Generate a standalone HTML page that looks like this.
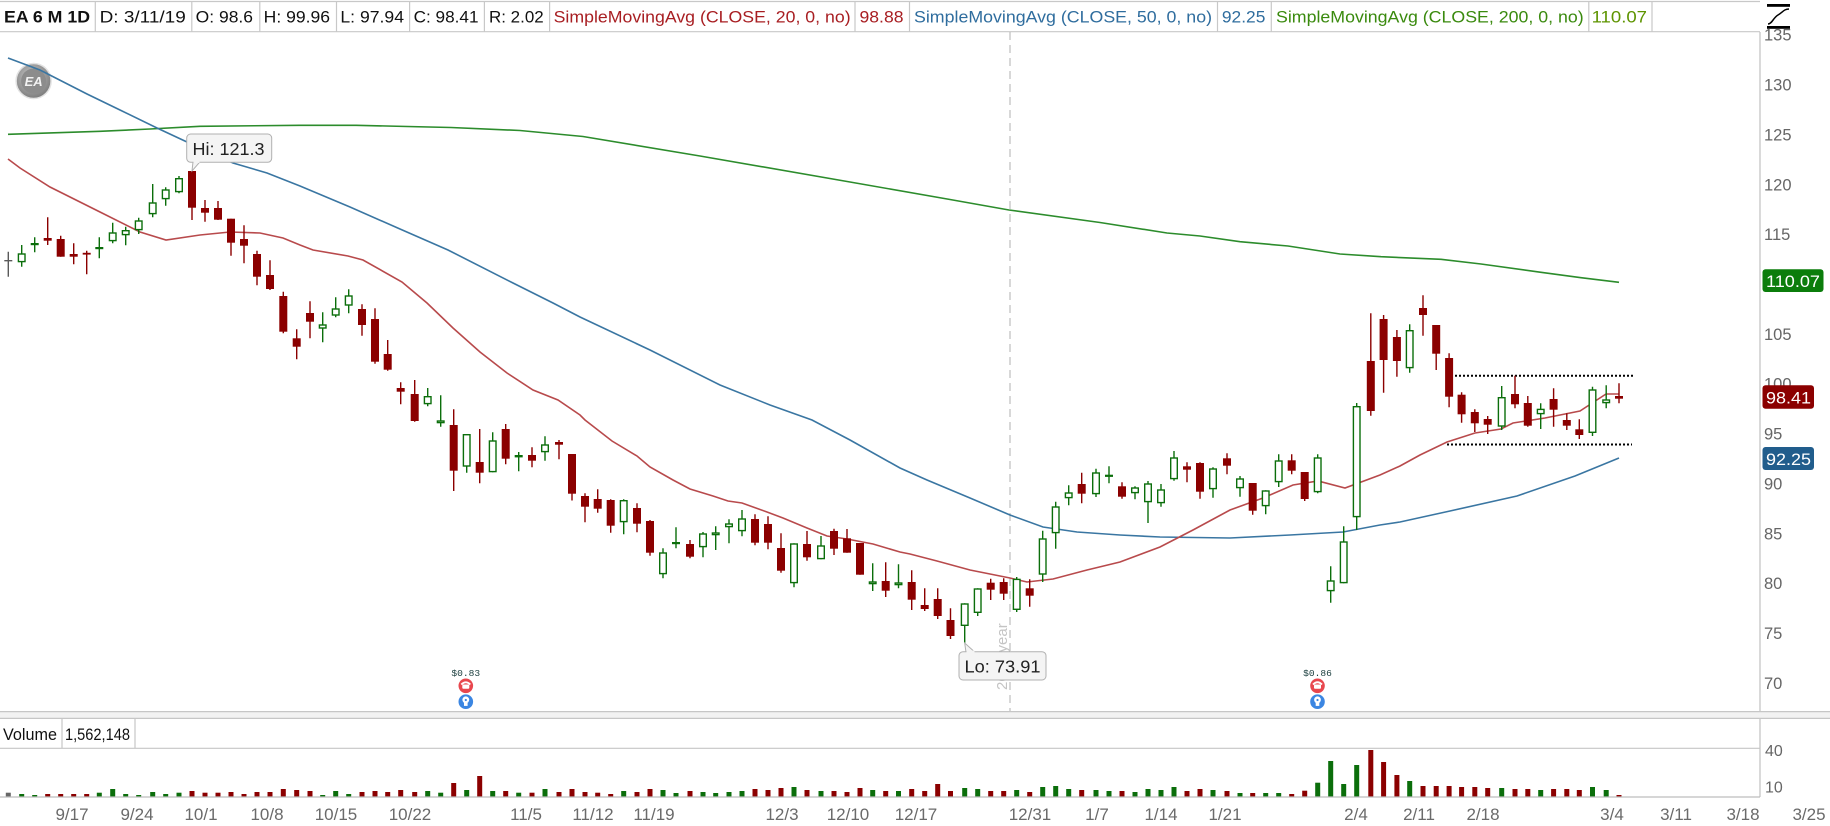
<!DOCTYPE html>
<html><head><meta charset="utf-8"><style>
html,body{margin:0;padding:0;background:#fff;}
svg{display:block;font-family:"Liberation Sans",Arial,sans-serif;}
</style></head><body>
<svg width="1830" height="826" viewBox="0 0 1830 826" xmlns="http://www.w3.org/2000/svg">
<defs>
<clipPath id="pc"><rect x="0" y="32" width="1760" height="679"/></clipPath>
<radialGradient id="eag" cx="45%" cy="40%" r="60%"><stop offset="0" stop-color="#d0d0d0"/><stop offset="1" stop-color="#7c7c7c"/></radialGradient>
</defs>
<rect width="1830" height="826" fill="#fff"/>

<!-- header -->
<g stroke="#c8c8c8" stroke-width="1.2">
<line x1="0" y1="1.5" x2="1760" y2="1.5"/><line x1="0" y1="31.7" x2="1760" y2="31.7"/>
<line x1="95.3" y1="1.5" x2="95.3" y2="31.7"/><line x1="191.8" y1="1.5" x2="191.8" y2="31.7"/>
<line x1="259.8" y1="1.5" x2="259.8" y2="31.7"/><line x1="336.5" y1="1.5" x2="336.5" y2="31.7"/>
<line x1="409.6" y1="1.5" x2="409.6" y2="31.7"/><line x1="484.4" y1="1.5" x2="484.4" y2="31.7"/>
<line x1="549.6" y1="1.5" x2="549.6" y2="31.7"/><line x1="855" y1="1.5" x2="855" y2="31.7"/>
<line x1="909.5" y1="1.5" x2="909.5" y2="31.7"/><line x1="1217.5" y1="1.5" x2="1217.5" y2="31.7"/>
<line x1="1271.3" y1="1.5" x2="1271.3" y2="31.7"/><line x1="1588.8" y1="1.5" x2="1588.8" y2="31.7"/>
<line x1="1652" y1="1.5" x2="1652" y2="31.7"/>
</g>
<g font-size="17" fill="#111">
<text x="4" y="22.5" font-weight="bold" textLength="86" lengthAdjust="spacingAndGlyphs">EA 6 M 1D</text>
<text x="99.6" y="22.5" textLength="86.2" lengthAdjust="spacingAndGlyphs">D: 3/11/19</text>
<text x="195.7" y="22.5" textLength="57.3" lengthAdjust="spacingAndGlyphs">O: 98.6</text>
<text x="263.7" y="22.5" textLength="66.3" lengthAdjust="spacingAndGlyphs">H: 99.96</text>
<text x="340.4" y="22.5" textLength="63.6" lengthAdjust="spacingAndGlyphs">L: 97.94</text>
<text x="413.6" y="22.5" textLength="64.9" lengthAdjust="spacingAndGlyphs">C: 98.41</text>
<text x="489" y="22.5" textLength="54.7" lengthAdjust="spacingAndGlyphs">R: 2.02</text>
<text x="553.6" y="22.5" fill="#a81e22" textLength="297" lengthAdjust="spacingAndGlyphs">SimpleMovingAvg (CLOSE, 20, 0, no)</text>
<text x="859.5" y="22.5" fill="#a81e22" textLength="44" lengthAdjust="spacingAndGlyphs">98.88</text>
<text x="914" y="22.5" fill="#2f6d9e" textLength="298" lengthAdjust="spacingAndGlyphs">SimpleMovingAvg (CLOSE, 50, 0, no)</text>
<text x="1221.9" y="22.5" fill="#2f6d9e" textLength="43.5" lengthAdjust="spacingAndGlyphs">92.25</text>
<text x="1276" y="22.5" fill="#3a8a0e" textLength="307.7" lengthAdjust="spacingAndGlyphs">SimpleMovingAvg (CLOSE, 200, 0, no)</text>
<text x="1591.6" y="22.5" fill="#5e9400" textLength="55.4" lengthAdjust="spacingAndGlyphs">110.07</text>
</g>
<!-- top-right icon -->
<rect x="1767" y="4" width="23" height="2.8" fill="#000"/>
<rect x="1767" y="26" width="23" height="2.8" fill="#000"/>
<path d="M1768 24 C1772 24 1773 18 1778 15 C1783 12 1784 9 1789 9" stroke="#000" stroke-width="1.5" fill="none"/>

<!-- axis line -->
<line x1="1760" y1="32" x2="1760" y2="797" stroke="#c0c0c0" stroke-width="1.2"/>

<g clip-path="url(#pc)">
<!-- EA logo -->
<circle cx="33.6" cy="81" r="17.5" fill="url(#eag)" stroke="#e2e2e2" stroke-width="1.5"/>
<circle cx="33.6" cy="81" r="12.5" fill="#8c8c8c"/>
<text x="33.6" y="86" font-size="13" font-weight="bold" font-style="italic" fill="#f2f2f2" text-anchor="middle">EA</text>

<!-- year separator -->
<line x1="1010" y1="32" x2="1010" y2="711" stroke="#c2c2c2" stroke-width="1.3" stroke-dasharray="8 5"/>
<text transform="translate(1007,690) rotate(-90)" font-size="15" fill="#c4c4c4">2019 year</text>

<!-- SMA lines -->
<polyline fill="none" stroke="#2c8c2c" stroke-width="1.6" points="8,134.3 100,131.3 150,129 200,126.3 300,125.3 356,125.3 451,127.5 520,130.5 583,136.5 700,156 850,182 950,199.5 1009,210 1100,222.5 1167,233 1200,236 1240,241.7 1288,246 1340,254 1381,256.7 1441,259.3 1481,264 1541,272.3 1581,277.7 1619,282.3"/>
<polyline fill="none" stroke="#3a76a2" stroke-width="1.6" points="8,58 40,70 87,94 120,110 157,128 187,142 233,163 267,173 300,186 350,207 400,229 448,250 513,283 553,303 580,317 650,350 720,385 770,405 812,420 850,440 900,468 927,480 970,498 1010,515 1043,527 1077,532 1120,535 1160,537 1230,538 1290,535 1343,532 1380,525 1400,522 1450,511 1517,496 1575,476 1619,458"/>
<polyline fill="none" stroke="#b84a4c" stroke-width="1.6" points="8,159 20,168 50,187 100,212 140,232 166,240 200,235 230,232 260,233 283,238 300,245 313,250 348,256 363,260 402,282 427,303 453,328 480,352 507,373 533,390 558,400 580,415 585,420 612,441 637,456 650,467 673,480 690,489 713,496 728,501 742,503 767,512 783,518 807,528 827,536 847,539 873,544 900,552 910,554 937,561 970,570 1010,578 1027,582 1053,579 1087,570 1120,562 1160,547 1193,530 1230,510 1263,498 1293,485 1318,481 1345,488 1380,475 1400,466 1420,455 1447,442 1475,433 1501,429 1513,423 1545,418 1580,411 1606,394 1619,394"/>

<!-- dotted lines -->
<line x1="1451" y1="375.7" x2="1633" y2="375.7" stroke="#000" stroke-width="2" stroke-dasharray="2 2"/>
<line x1="1447" y1="444.5" x2="1632" y2="444.5" stroke="#000" stroke-width="2" stroke-dasharray="2 2"/>

<!-- first gray candle -->
<path d="M8.3 251.7V276.7M4.3 260.7H12.3" stroke="#5a5a5a" stroke-width="1.4"/>

<!-- red wicks -->
<path fill="none" stroke="#8b0000" stroke-width="1.4" d="M47.7 217.3V245M60.7 235.7V256.7M73.7 243.3V264.3M86.7 250.7V274.3M192 171V220M205 200V221.7M218 201V220M231 218.7V255.7M244 225.3V263.3M257 250.7V285.3M270 260.3V290M283.3 291.7V333.3M296.7 329.3V359.3M310 301.3V338.3M362 304.3V335.7M375 308.3V363.7M387.7 340V370.7M400.7 382.3V404.3M414.7 380V421.7M453.7 409.3V491M479.7 429V483.3M505.7 424V464.3M532 447.3V467.3M559 440V459.3M572 454V500.5M585 493.3V522.3M597.7 489.3V512.7M610.7 499.3V532.7M637 503.3V532.3M650 520V555.7M690 540V558.3M755 514.3V545.3M768 516.3V549.3M781 533.3V572.7M807 531V560.7M834 528.7V555M847 529V552.7M860 543V574.7M885.7 562.3V597M911.7 570.3V610M924.7 588.3V611M937.7 588.3V619M950.5 608.3V639M990.7 578.7V600M1003.7 578.3V600M1029.7 579.3V606.7M1081.7 472.7V503.3M1122 482.3V498.7M1187 462.3V482.3M1200 462.3V498.7M1227 453.3V474.3M1252.7 483V514.7M1291.7 454.3V474.3M1304.7 472V501M1370.8 313.3V415.7M1383.6 315V392.7M1396.9 330V376.7M1423 295.3V335.7M1436.2 325V370M1449.1 353.3V407.3M1461.6 392.3V422.7M1474.8 409.3V432M1487.7 416V434M1515 375.7V408.3M1527.8 396V426.7M1553.6 388.3V426.7M1566.8 413.3V430M1579.3 419.3V439M1619 383.3V403.3"/>
<!-- red bodies -->
<g fill="#8b0000">
<rect x="43.7" y="238" width="8" height="2.7"/><rect x="56.7" y="239" width="8" height="17.7"/><rect x="69.7" y="254" width="8" height="2.7"/><rect x="82.7" y="252.8" width="8" height="1.8"/>
<rect x="188" y="171" width="8" height="36.7"/><rect x="201" y="208" width="8" height="4.7"/><rect x="214" y="208" width="8" height="11.7"/><rect x="227" y="218.7" width="8" height="24"/>
<rect x="240" y="239" width="8" height="6.7"/><rect x="253" y="254" width="8" height="22.7"/><rect x="266" y="275" width="8" height="14"/><rect x="279.3" y="296" width="8" height="35.7"/>
<rect x="292.7" y="338.3" width="8" height="8.4"/><rect x="306" y="313" width="8" height="8.7"/><rect x="358" y="309" width="8" height="16"/><rect x="371" y="319" width="8" height="42.7"/>
<rect x="383.7" y="354" width="8" height="15.7"/><rect x="396.7" y="388" width="8" height="3.7"/><rect x="410.7" y="394" width="8" height="27"/><rect x="449.7" y="425" width="8" height="45.7"/>
<rect x="475.7" y="462" width="8" height="10.7"/><rect x="501.7" y="429" width="8" height="29.7"/><rect x="528" y="455" width="8" height="5.7"/><rect x="555" y="442" width="8" height="2.7"/>
<rect x="568" y="454" width="8" height="39.7"/><rect x="581" y="496" width="8" height="10.7"/><rect x="593.7" y="499" width="8" height="9.7"/><rect x="606.7" y="500" width="8" height="25.7"/>
<rect x="633" y="508" width="8" height="15.7"/><rect x="646" y="521" width="8" height="31.7"/><rect x="686" y="544" width="8" height="12.7"/><rect x="751" y="519" width="8" height="23.7"/>
<rect x="764" y="524" width="8" height="18.7"/><rect x="777" y="548" width="8" height="22.7"/><rect x="803" y="544" width="8" height="13.3"/><rect x="830" y="531" width="8" height="17.7"/>
<rect x="843" y="538.3" width="8" height="14.4"/><rect x="856" y="543" width="8" height="31.7"/><rect x="881.7" y="581" width="8" height="9.7"/><rect x="907.7" y="582" width="8" height="17.7"/>
<rect x="920.7" y="605" width="8" height="4"/><rect x="933.7" y="599" width="8" height="17"/><rect x="946.5" y="620" width="8" height="16"/><rect x="986.7" y="582.7" width="8" height="7"/>
<rect x="999.7" y="582" width="8" height="11.7"/><rect x="1025.7" y="588.3" width="8" height="7.4"/><rect x="1077.7" y="484" width="8" height="9.7"/><rect x="1118" y="486.3" width="8" height="10.4"/>
<rect x="1183" y="466.3" width="8" height="3.4"/><rect x="1196" y="463" width="8" height="28.7"/><rect x="1223" y="458.3" width="8" height="7.4"/><rect x="1248.7" y="483" width="8" height="27.7"/>
<rect x="1287.7" y="460.3" width="8" height="10.4"/><rect x="1300.7" y="472" width="8" height="27"/><rect x="1366.8" y="361" width="8" height="50"/><rect x="1379.6" y="319" width="8" height="41"/>
<rect x="1392.9" y="337" width="8" height="24"/><rect x="1419" y="308" width="8" height="7"/><rect x="1432.2" y="325" width="8" height="28.7"/><rect x="1445.1" y="358" width="8" height="38.7"/>
<rect x="1457.6" y="394.7" width="8" height="19.6"/><rect x="1470.8" y="412" width="8" height="11.3"/><rect x="1483.7" y="419" width="8" height="5.7"/><rect x="1511" y="394" width="8" height="10.3"/>
<rect x="1523.8" y="403" width="8" height="22.7"/><rect x="1549.6" y="399" width="8" height="10.7"/><rect x="1562.8" y="420" width="8" height="5.7"/><rect x="1575.3" y="429.3" width="8" height="5.7"/>
<rect x="1615" y="396" width="8" height="2.7"/>
</g>

<!-- green wicks -->
<path fill="none" stroke="#0b6e0b" stroke-width="1.4" d="M21.7 245V266.7M34.7 237.3V252.3M99.3 237.3V258.3M112.7 222.7V243.3M125.7 226.7V245.3M138.7 217.7V234M152.7 184V217.3M165.7 187.3V205.7M179 176V193.3M322.7 312.3V342.3M335.7 297.3V317.3M348.7 289.3V313.3M427.7 388V406.3M440.7 395.3V426.7M466.7 434V472.7M492.7 432.3V472.3M518.7 452V471.3M545 436.3V460.7M623.7 499.3V534.3M663 548.3V578.3M676 527.3V548.3M703 532V557.3M715.7 526.3V550M729 519.3V543.3M742 510V536.3M794 543.3V587.3M821 536V559.3M872.7 563.3V591M898.5 564.3V588.3M964.7 603.3V642.7M977.7 588.3V616M1016.7 577V612M1042.7 530.7V582M1055.7 501.7V548.7M1068.7 485.3V505.3M1096 468.7V497M1109 466.3V483.3M1135 486.3V499.3M1148 481V523M1161 484V506.7M1174 451V480.7M1213 467.3V497.7M1240 476V496.7M1265.7 490.3V514.3M1278.7 454.3V487M1317.7 454.3V493.3M1330.7 566.3V602.7M1343.7 526.3V583.3M1356.7 403V530M1409.7 324.3V372.7M1501.7 386V430M1540.7 403.3V429M1592.5 386.7V436M1606.2 385.3V408.3"/>
<!-- green flat bodies -->
<g fill="#0b6e0b">
<rect x="30.7" y="243" width="8" height="2.2"/><rect x="95.3" y="247" width="8" height="2.2"/><rect x="672" y="542" width="8" height="2.2"/><rect x="1105" y="474.7" width="8" height="2.2"/>
</g>
<!-- green hollow bodies -->
<g fill="#fff" stroke="#0b6e0b" stroke-width="1.4">
<rect x="18.4" y="254" width="6.6" height="7.6"/><rect x="109.4" y="233" width="6.6" height="7.6"/><rect x="122.4" y="230.7" width="6.6" height="3.9"/><rect x="135.4" y="221" width="6.6" height="8.6"/>
<rect x="149.4" y="203" width="6.6" height="10.6"/><rect x="162.4" y="190" width="6.6" height="8.6"/><rect x="175.7" y="178.7" width="6.6" height="12.9"/><rect x="319.4" y="325" width="6.6" height="3"/>
<rect x="332.4" y="309" width="6.6" height="6"/><rect x="345.4" y="296" width="6.6" height="9"/><rect x="424.4" y="396.7" width="6.6" height="6.9"/><rect x="437.4" y="421" width="6.6" height="1.6"/>
<rect x="463.4" y="434.7" width="6.6" height="31.3"/><rect x="489.4" y="441" width="6.6" height="30.6"/><rect x="515.4" y="455.7" width="6.6" height="1"/><rect x="541.7" y="445" width="6.6" height="6.6"/>
<rect x="620.4" y="500.7" width="6.6" height="20.9"/><rect x="659.7" y="553" width="6.6" height="20.6"/><rect x="699.7" y="534" width="6.6" height="12.6"/><rect x="712.4" y="533" width="6.6" height="1.6"/>
<rect x="725.7" y="524" width="6.6" height="2.6"/><rect x="738.7" y="519" width="6.6" height="11.6"/><rect x="790.7" y="544" width="6.6" height="38.6"/><rect x="817.7" y="546" width="6.6" height="12.6"/>
<rect x="869.4" y="582" width="6.6" height="1.6"/><rect x="895.2" y="583" width="6.6" height="1.6"/><rect x="961.4" y="604" width="6.6" height="21.3"/><rect x="974.4" y="589" width="6.6" height="23.3"/>
<rect x="1013.4" y="579.4" width="6.6" height="29.9"/><rect x="1039.4" y="539" width="6.6" height="35"/><rect x="1052.4" y="507" width="6.6" height="25.6"/><rect x="1065.4" y="493" width="6.6" height="4.6"/>
<rect x="1092.7" y="473" width="6.6" height="20.6"/><rect x="1131.7" y="488" width="6.6" height="4.6"/><rect x="1144.7" y="484" width="6.6" height="17.6"/><rect x="1157.7" y="490" width="6.6" height="12.6"/>
<rect x="1170.7" y="458" width="6.6" height="20.6"/><rect x="1209.7" y="469" width="6.6" height="19.6"/><rect x="1236.7" y="479" width="6.6" height="8.6"/><rect x="1262.4" y="491" width="6.6" height="14.6"/>
<rect x="1275.4" y="461" width="6.6" height="20.6"/><rect x="1314.4" y="458" width="6.6" height="33.6"/><rect x="1327.4" y="581" width="6.6" height="9.6"/><rect x="1340.4" y="542" width="6.6" height="40.6"/>
<rect x="1353.4" y="406.7" width="6.6" height="109.9"/><rect x="1406.4" y="330.7" width="6.6" height="36.9"/><rect x="1498.4" y="397.7" width="6.6" height="28.3"/><rect x="1537.4" y="409.4" width="6.6" height="4.2"/>
<rect x="1589.2" y="390" width="6.6" height="42.3"/><rect x="1602.9" y="400" width="6.6" height="2.6"/>
</g>

<!-- Hi label -->
<path d="M193 161.8 L192 171 L200 161.8" fill="#f4f4f4" stroke="#b0b0b0" stroke-width="1"/>
<rect x="186.7" y="134" width="85" height="28.3" rx="4" fill="#f4f4f4" stroke="#b0b0b0" stroke-width="1"/>
<rect x="193.5" y="160" width="6" height="3" fill="#f4f4f4"/>
<text x="192.5" y="155" font-size="17.5" fill="#222" textLength="72" lengthAdjust="spacingAndGlyphs">Hi: 121.3</text>

<!-- Lo label -->
<path d="M966 652.2 L964.7 643 L975 652.2" fill="#f4f4f4" stroke="#b0b0b0" stroke-width="1"/>
<rect x="959" y="651.7" width="87" height="28.3" rx="4" fill="#f4f4f4" stroke="#b0b0b0" stroke-width="1"/>
<rect x="966.5" y="650.5" width="8" height="3" fill="#f4f4f4"/>
<text x="964.5" y="672.5" font-size="17.5" fill="#222" textLength="76" lengthAdjust="spacingAndGlyphs">Lo: 73.91</text>

<!-- earnings markers -->
<text x="465.8" y="676" font-family="'Liberation Mono',monospace" font-size="9.6" fill="#1d4040" text-anchor="middle">$0.83</text>
<circle cx="465.8" cy="685.8" r="7.3" fill="#e8474e"/>
<path d="M461.3 684.5 q4.5 -4.5 9 0" stroke="#fff" stroke-width="1.8" fill="none"/>
<rect x="462.3" y="684.5" width="7" height="4.3" rx="1" fill="#fff"/>
<circle cx="465.8" cy="701.7" r="7.3" fill="#3b86e2"/>
<circle cx="465.8" cy="699.8" r="3.4" fill="#fff"/><rect x="464" y="702.5" width="3.6" height="3.4" fill="#fff"/>
<circle cx="465.8" cy="700" r="1.1" fill="#3b86e2"/>

<text x="1317.5" y="676" font-family="'Liberation Mono',monospace" font-size="9.6" fill="#1d4040" text-anchor="middle">$0.86</text>
<circle cx="1317.5" cy="685.8" r="7.3" fill="#e8474e"/>
<path d="M1313 684.5 q4.5 -4.5 9 0" stroke="#fff" stroke-width="1.8" fill="none"/>
<rect x="1314" y="684.5" width="7" height="4.3" rx="1" fill="#fff"/>
<circle cx="1317.5" cy="701.7" r="7.3" fill="#3b86e2"/>
<circle cx="1317.5" cy="699.8" r="3.4" fill="#fff"/><rect x="1315.7" y="702.5" width="3.6" height="3.4" fill="#fff"/>
<circle cx="1317.5" cy="700" r="1.1" fill="#3b86e2"/>
</g>

<!-- price axis labels -->
<g font-size="16.5" fill="#666">
<text x="1764" y="40.7">135</text><text x="1764" y="90.6">130</text><text x="1764" y="140.4">125</text>
<text x="1764" y="190.3">120</text><text x="1764" y="240.2">115</text><text x="1764" y="339.9">105</text>
<text x="1764" y="389.7">100</text><text x="1764" y="439.6">95</text><text x="1764" y="489.4">90</text>
<text x="1764" y="539.3">85</text><text x="1764" y="589.1">80</text><text x="1764" y="639">75</text>
<text x="1764" y="688.8">70</text>
</g>
<rect x="1762.5" y="269.3" width="61" height="22.7" rx="3" fill="#0b7d0b"/>
<text x="1766" y="287" font-size="17" fill="#fff" textLength="54" lengthAdjust="spacingAndGlyphs">110.07</text>
<rect x="1762.5" y="385.3" width="51.5" height="23.4" rx="3" fill="#8b0000"/>
<text x="1766" y="403.3" font-size="17" fill="#fff" textLength="45" lengthAdjust="spacingAndGlyphs">98.41</text>
<rect x="1762.5" y="447" width="51.5" height="23" rx="3" fill="#215d8c"/>
<text x="1766" y="464.8" font-size="17" fill="#fff" textLength="45" lengthAdjust="spacingAndGlyphs">92.25</text>

<!-- pane separator -->
<rect x="0" y="712" width="1830" height="6" fill="#f2f2f2"/>
<line x1="0" y1="711.6" x2="1830" y2="711.6" stroke="#c6c6c6" stroke-width="1.2"/>
<line x1="0" y1="718.4" x2="1830" y2="718.4" stroke="#c6c6c6" stroke-width="1.2"/>
<line x1="0" y1="748.3" x2="1760" y2="748.3" stroke="#c6c6c6" stroke-width="1.2"/>
<line x1="62" y1="718.4" x2="62" y2="748.3" stroke="#c6c6c6" stroke-width="1.2"/>
<line x1="135" y1="718.4" x2="135" y2="748.3" stroke="#c6c6c6" stroke-width="1.2"/>
<text x="3" y="740" font-size="17" fill="#111" textLength="54" lengthAdjust="spacingAndGlyphs">Volume</text>
<text x="65" y="740" font-size="17" fill="#111" textLength="65" lengthAdjust="spacingAndGlyphs">1,562,148</text>

<!-- volume bars -->
<rect x="5.8" y="792.7" width="5" height="4.3" fill="#666"/>
<g fill="#8b0000">
<rect x="45.2" y="794" width="5" height="3"/><rect x="58.2" y="794" width="5" height="3"/><rect x="71.2" y="794" width="5" height="3"/><rect x="84.2" y="794" width="5" height="3"/>
<rect x="189.5" y="791" width="5" height="6"/><rect x="202.5" y="792.7" width="5" height="4.3"/><rect x="215.5" y="792.7" width="5" height="4.3"/><rect x="228.5" y="792" width="5" height="5"/>
<rect x="241.5" y="794" width="5" height="3"/><rect x="254.5" y="792" width="5" height="5"/><rect x="267.5" y="792" width="5" height="5"/><rect x="280.8" y="789" width="5" height="8"/>
<rect x="294.2" y="790" width="5" height="7"/><rect x="307.5" y="791" width="5" height="6"/><rect x="359.5" y="792" width="5" height="5"/><rect x="372.5" y="791" width="5" height="6"/>
<rect x="385.2" y="792" width="5" height="5"/><rect x="398.2" y="790" width="5" height="7"/><rect x="412.2" y="792" width="5" height="5"/><rect x="451.2" y="783" width="5" height="14"/>
<rect x="477.2" y="776" width="5" height="21"/><rect x="503.2" y="791" width="5" height="6"/><rect x="529.5" y="792.7" width="5" height="4.3"/><rect x="556.5" y="792" width="5" height="5"/>
<rect x="569.5" y="789" width="5" height="8"/><rect x="582.5" y="792" width="5" height="5"/><rect x="595.2" y="792.7" width="5" height="4.3"/><rect x="608.2" y="794" width="5" height="3"/>
<rect x="634.5" y="792" width="5" height="5"/><rect x="647.5" y="789" width="5" height="8"/><rect x="687.5" y="791" width="5" height="6"/><rect x="752.5" y="789" width="5" height="8"/>
<rect x="765.5" y="790" width="5" height="7"/><rect x="778.5" y="788" width="5" height="9"/><rect x="804.5" y="790" width="5" height="7"/><rect x="831.5" y="791" width="5" height="6"/>
<rect x="844.5" y="792" width="5" height="5"/><rect x="857.5" y="788" width="5" height="9"/><rect x="883.2" y="791" width="5" height="6"/><rect x="909.2" y="789" width="5" height="8"/>
<rect x="922.2" y="791" width="5" height="6"/><rect x="935.2" y="784" width="5" height="13"/><rect x="948" y="791" width="5" height="6"/><rect x="988.2" y="791" width="5" height="6"/>
<rect x="1001.2" y="791" width="5" height="6"/><rect x="1027.2" y="792" width="5" height="5"/><rect x="1079.2" y="790" width="5" height="7"/><rect x="1119.5" y="791" width="5" height="6"/>
<rect x="1184.5" y="791" width="5" height="6"/><rect x="1197.5" y="789" width="5" height="8"/><rect x="1224.5" y="791" width="5" height="6"/><rect x="1250.2" y="793" width="5" height="4"/>
<rect x="1289.2" y="794" width="5" height="3"/><rect x="1302.2" y="790.7" width="5" height="6.3"/><rect x="1368.3" y="750" width="5" height="47"/><rect x="1381.1" y="762" width="5" height="35"/>
<rect x="1394.4" y="775" width="5" height="22"/><rect x="1420.5" y="786" width="5" height="11"/><rect x="1433.7" y="786" width="5" height="11"/><rect x="1446.6" y="786" width="5" height="11"/>
<rect x="1459.1" y="787" width="5" height="10"/><rect x="1472.3" y="787" width="5" height="10"/><rect x="1485.2" y="788" width="5" height="9"/><rect x="1512.5" y="789" width="5" height="8"/>
<rect x="1525.3" y="789" width="5" height="8"/><rect x="1551.1" y="789" width="5" height="8"/><rect x="1564.3" y="789" width="5" height="8"/><rect x="1576.8" y="790" width="5" height="7"/>
<rect x="1616.5" y="795" width="5" height="2"/>
</g>
<g fill="#0b6e0b">
<rect x="19.2" y="794" width="5" height="3"/><rect x="32.2" y="795" width="5" height="2"/><rect x="96.8" y="792.7" width="5" height="4.3"/><rect x="110.2" y="789" width="5" height="8"/>
<rect x="123.2" y="794" width="5" height="3"/><rect x="136.2" y="795" width="5" height="2"/><rect x="150.2" y="792" width="5" height="5"/><rect x="163.2" y="794" width="5" height="3"/>
<rect x="176.5" y="792.7" width="5" height="4.3"/><rect x="320.2" y="795" width="5" height="2"/><rect x="333.2" y="791" width="5" height="6"/><rect x="346.2" y="794" width="5" height="3"/>
<rect x="425.2" y="791" width="5" height="6"/><rect x="438.2" y="792.7" width="5" height="4.3"/><rect x="464.2" y="790" width="5" height="7"/><rect x="490.2" y="791" width="5" height="6"/>
<rect x="516.2" y="792.7" width="5" height="4.3"/><rect x="542.5" y="789" width="5" height="8"/><rect x="621.2" y="791" width="5" height="6"/><rect x="660.5" y="790" width="5" height="7"/>
<rect x="673.5" y="793" width="5" height="4"/><rect x="700.5" y="792" width="5" height="5"/><rect x="713.2" y="793" width="5" height="4"/><rect x="726.5" y="792" width="5" height="5"/>
<rect x="739.5" y="791" width="5" height="6"/><rect x="791.5" y="787" width="5" height="10"/><rect x="818.5" y="791" width="5" height="6"/><rect x="870.2" y="790" width="5" height="7"/>
<rect x="896" y="791" width="5" height="6"/><rect x="962.2" y="788" width="5" height="9"/><rect x="975.2" y="789" width="5" height="8"/><rect x="1014.2" y="790" width="5" height="7"/>
<rect x="1040.2" y="787" width="5" height="10"/><rect x="1053.2" y="786" width="5" height="11"/><rect x="1066.2" y="789" width="5" height="8"/><rect x="1093.5" y="790" width="5" height="7"/>
<rect x="1106.5" y="791" width="5" height="6"/><rect x="1132.5" y="792" width="5" height="5"/><rect x="1145.5" y="789" width="5" height="8"/><rect x="1158.5" y="790" width="5" height="7"/>
<rect x="1171.5" y="787" width="5" height="10"/><rect x="1210.5" y="790" width="5" height="7"/><rect x="1237.5" y="793" width="5" height="4"/><rect x="1263.2" y="793" width="5" height="4"/>
<rect x="1276.2" y="793" width="5" height="4"/><rect x="1315.2" y="782.7" width="5" height="14.3"/><rect x="1328.2" y="761" width="5" height="36"/><rect x="1341.2" y="784" width="5" height="13"/>
<rect x="1354.2" y="765" width="5" height="32"/><rect x="1407.2" y="781" width="5" height="16"/><rect x="1499.2" y="788" width="5" height="9"/><rect x="1538.2" y="790" width="5" height="7"/>
<rect x="1590" y="787" width="5" height="10"/><rect x="1603.7" y="790" width="5" height="7"/>
</g>
<line x1="0" y1="797" x2="1760" y2="797" stroke="#bdbdbd" stroke-width="1.2"/>

<!-- volume axis -->
<g font-size="16" fill="#666">
<text x="1765" y="756">40</text><text x="1765" y="792.5">10</text>
</g>

<!-- date axis -->
<g font-size="17" fill="#6a6a6a" text-anchor="middle">
<text x="72" y="820">9/17</text><text x="137" y="820">9/24</text><text x="201" y="820">10/1</text>
<text x="267" y="820">10/8</text><text x="336" y="820">10/15</text><text x="410" y="820">10/22</text>
<text x="526" y="820">11/5</text><text x="593" y="820">11/12</text><text x="654" y="820">11/19</text>
<text x="782" y="820">12/3</text><text x="848" y="820">12/10</text><text x="916" y="820">12/17</text>
<text x="1030" y="820">12/31</text><text x="1097" y="820">1/7</text><text x="1161" y="820">1/14</text>
<text x="1225" y="820">1/21</text><text x="1356" y="820">2/4</text><text x="1419" y="820">2/11</text>
<text x="1483" y="820">2/18</text><text x="1612" y="820">3/4</text><text x="1676" y="820">3/11</text>
<text x="1743" y="820">3/18</text><text x="1809" y="820">3/25</text>
</g>
</svg>
</body></html>
